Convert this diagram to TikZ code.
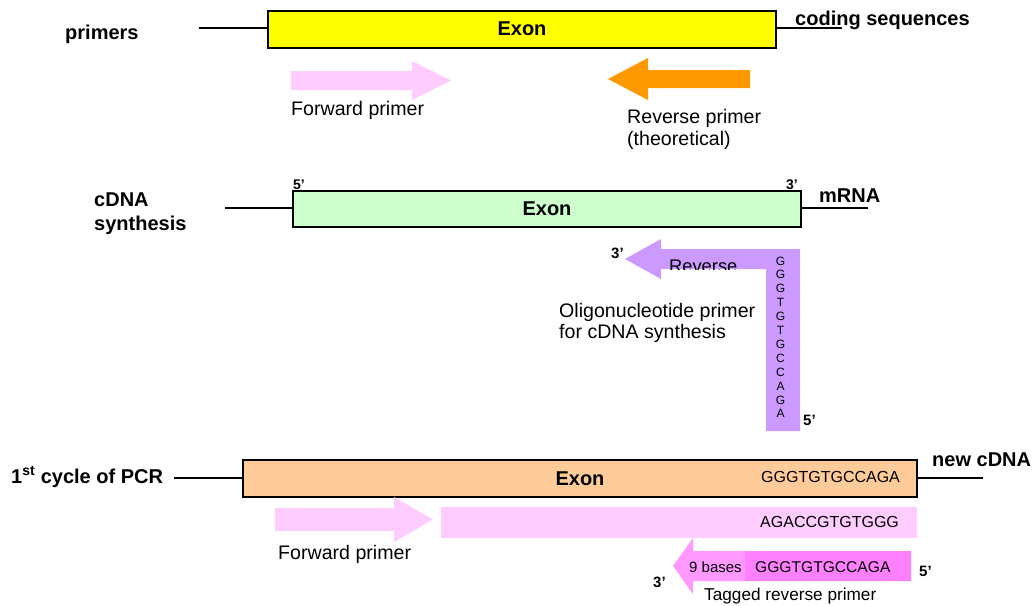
\documentclass[tikz,border=0pt]{standalone}
\usepackage{fontspec}
\setmainfont{Liberation Sans}
\usetikzlibrary{positioning}

\definecolor{exonyellow}{HTML}{FFFF00}
\definecolor{exongreen}{HTML}{CCFFCC}
\definecolor{exonpeach}{HTML}{FFCC99}
\definecolor{primerpink}{HTML}{FFCCFF}
\definecolor{primerorange}{HTML}{FF9900}
\definecolor{primerpurple}{HTML}{CC99FF}
\definecolor{tagpink}{HTML}{FF99FF}
\definecolor{tagdark}{HTML}{FF80FF}

\begin{document}
\begin{tikzpicture}[x=1pt, y=-1pt,
  strand/.style={line width=2pt},
  exonbox/.style={draw, line width=2pt, inner sep=0pt, anchor=north west,
    font=\bfseries\fontsize{20}{22}\selectfont},
  lbl/.style={inner sep=0pt, anchor=base west, align=left,
    font=\bfseries\fontsize{20}{24}\selectfont},
  txt/.style={inner sep=0pt, anchor=base west, align=left,
    font=\fontsize{19.6}{21.5}\selectfont},
  seq/.style={inner sep=0pt, anchor=base west, font=\fontsize{16}{18}\selectfont},
  prime/.style={inner sep=0pt, anchor=base west, font=\bfseries\fontsize{15}{17}\selectfont},
  smallprime/.style={prime, font=\bfseries\fontsize{14}{15}\selectfont}]

\useasboundingbox (0,0) rectangle (1035,605);

% primers
\node[exonbox, fill=exonyellow, minimum width=508pt, minimum height=37pt] (ex1) at (267,9.5) {Exon};
\coordinate (s1a) at (199,28);
\coordinate (s1b) at (842,28);
\draw[strand] (s1a) -- (s1a -| ex1.west);
\draw[strand] (s1b -| ex1.east) -- (s1b);
\node[lbl] (primers) at (65,39) {primers};
\node[lbl] (coding) at (795,25) {coding sequences};

\fill[primerpink] (291,71) -- (412,71) -- (412,61) -- (451,80.5) -- (412,100) -- (412,90) -- (291,90) -- cycle;
\fill[primerorange] (750,70) -- (648,70) -- (648,58) -- (608,79) -- (648,100) -- (648,88) -- (750,88) -- cycle;
\node[txt] (fwd1) at (291,115) {Forward primer};
\node[txt, anchor=north west] (rev1) at (627,109.3) {Reverse primer\\(theoretical)};

% cDNA synthesis
\node[exonbox, fill=exongreen, minimum width=508pt, minimum height=36pt] (ex2) at (292,190) {Exon};
\coordinate (s2a) at (225,208);
\coordinate (s2b) at (868,208);
\draw[strand] (s2a) -- (s2a -| ex2.west);
\draw[strand] (s2b -| ex2.east) -- (s2b);
\node[lbl, anchor=north west] (cdna) at (94,192.7) {cDNA\\synthesis};
\node[lbl] (mrna) at (819,202) {mRNA};
\node[smallprime] (p5a) at (293,189.5) {5’};
\node[smallprime] (p3a) at (786,189.5) {3’};

\fill[primerpurple] (625,259) -- (661,239) -- (661,249) -- (800,249) -- (800,431) -- (766,431)
  -- (766,269) -- (661,269) -- (661,279) -- cycle;
\begin{scope}
  \clip (661,249) rectangle (766,269);
  \node[txt, font=\fontsize{18.3}{20}\selectfont] (revp) at (669,272) {Reverse};
\end{scope}
\node[inner sep=0pt, anchor=north, align=center, font=\fontsize{12}{13.9}\selectfont] (oligo)
  at (780.5,256.5) {G\\G\\G\\T\\G\\T\\G\\C\\C\\A\\G\\A};
\node[prime] (p3b) at (611,258) {3’};
\node[prime] (p5b) at (803,425) {5’};
\node[txt, anchor=north west] (olabel) at (559,303) {Oligonucleotide primer\\for cDNA synthesis};

% 1st cycle of PCR
\node[exonbox, fill=exonpeach, minimum width=674pt, minimum height=37pt] (ex3) at (242,459) {Exon};
\coordinate (s3a) at (174,478);
\coordinate (s3b) at (983,478);
\draw[strand] (s3a) -- (s3a -| ex3.west);
\draw[strand] (s3b -| ex3.east) -- (s3b);
\node[lbl] (pcr) at (11,483) {1\textsuperscript{st} cycle of PCR};
\node[lbl] (newcdna) at (932,466) {new cDNA};
\node[seq] (seqa) at (761,482) {GGGTGTGCCAGA};

\fill[primerpink] (275,508) -- (394,508) -- (394,497) -- (433,519.5) -- (394,542) -- (394,531) -- (275,531) -- cycle;
\fill[primerpink] (441,507) rectangle (917,538);
\node[seq] (seqb) at (760,527) {AGACCGTGTGGG};
\node[txt] (fwd2) at (278,559) {Forward primer};

\fill[tagpink] (911,551) -- (693,551) -- (693,538) -- (673,566) -- (693,594) -- (693,581) -- (911,581) -- cycle;
\fill[tagdark] (745,551) rectangle (911,581);
\node[seq, font=\fontsize{15}{17}\selectfont] (nine) at (689,572) {9 bases};
\node[seq, font=\fontsize{15.6}{18}\selectfont] (seqc) at (755,572) {GGGTGTGCCAGA};
\node[prime] (p5c) at (919,576) {5’};
\node[prime] (p3c) at (653,587) {3’};
\node[txt, font=\fontsize{17.2}{20}\selectfont] (tagged) at (704,600) {Tagged reverse primer};

\end{tikzpicture}
\end{document}
